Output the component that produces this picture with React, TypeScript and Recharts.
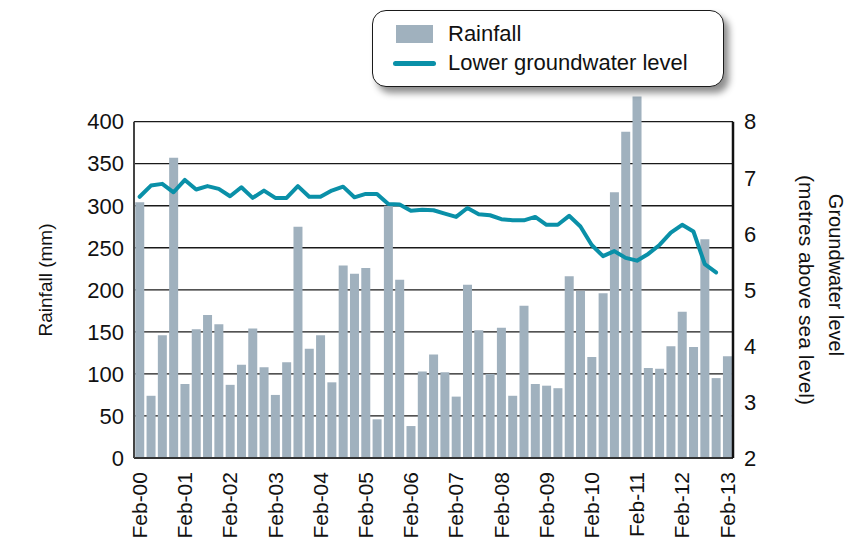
import React from 'react';
import {
  ComposedChart,
  Bar,
  Line,
  XAxis,
  YAxis,
  CartesianGrid,
  ReferenceLine,
  Legend,
  Label,
} from 'recharts';

const categories = [
  'Feb-00', 'May-00', 'Aug-00', 'Nov-00',
  'Feb-01', 'May-01', 'Aug-01', 'Nov-01',
  'Feb-02', 'May-02', 'Aug-02', 'Nov-02',
  'Feb-03', 'May-03', 'Aug-03', 'Nov-03',
  'Feb-04', 'May-04', 'Aug-04', 'Nov-04',
  'Feb-05', 'May-05', 'Aug-05', 'Nov-05',
  'Feb-06', 'May-06', 'Aug-06', 'Nov-06',
  'Feb-07', 'May-07', 'Aug-07', 'Nov-07',
  'Feb-08', 'May-08', 'Aug-08', 'Nov-08',
  'Feb-09', 'May-09', 'Aug-09', 'Nov-09',
  'Feb-10', 'May-10', 'Aug-10', 'Nov-10',
  'Feb-11', 'May-11', 'Aug-11', 'Nov-11',
  'Feb-12', 'May-12', 'Aug-12', 'Nov-12',
  'Feb-13',
];

const rainfall = [
  304, 74, 146, 357, 88, 153, 170, 159, 87, 111, 154, 108, 75, 114, 275, 130,
  146, 90, 229, 219, 226, 46, 300, 212, 38, 103, 123, 102, 73, 206, 152, 100,
  155, 74, 181, 88, 86, 83, 216, 199, 120, 196, 316, 388, 430, 107, 106, 133,
  174, 132, 260, 95, 121,
];

const groundwater: (number | null)[] = [
  6.66, 6.86, 6.89, 6.74, 6.96, 6.79, 6.85, 6.8, 6.67, 6.83, 6.64, 6.77, 6.64,
  6.64, 6.85, 6.66, 6.66, 6.77, 6.84, 6.65, 6.71, 6.71, 6.53, 6.52, 6.41, 6.43,
  6.42, 6.36, 6.3, 6.46, 6.35, 6.33, 6.26, 6.24, 6.24, 6.3, 6.16, 6.16, 6.32,
  6.13, 5.8, 5.6, 5.69, 5.57, 5.52, 5.64, 5.8, 6.02, 6.16, 6.04, 5.46, 5.31,
  null,
];

const leftTicks = [0, 50, 100, 150, 200, 250, 300, 350, 400];
const rightTicks = [2, 3, 4, 5, 6, 7, 8];

const data = categories.map((label, i) => ({
  label,
  rain: rainfall[i],
  gw: groundwater[i],
}));

const FIRST = categories[0];
const LAST = categories[categories.length - 1];
const TOP = leftTicks[leftTicks.length - 1];

const FONT = '"Liberation Sans", Arial, sans-serif';
const BAR_COLOR = '#a0b1be';
const LINE_COLOR = '#0a90a8';

const XTick = (props: any) => {
  const { x, y, payload } = props;
  return (
    <text
      x={x}
      y={y}
      transform={`rotate(-90, ${x}, ${y})`}
      textAnchor="end"
      dy="0.35em"
      fontSize={21}
      fontFamily={FONT}
      fill="#111"
    >
      {payload.value}
    </text>
  );
};

const LeftLabel = (props: any) => {
  const vb = props.viewBox || {};
  const cx = vb.x + 45;
  const cy = vb.y + 192;
  return (
    <text
      x={cx}
      y={cy}
      transform={`rotate(-90, ${cx}, ${cy})`}
      textAnchor="middle"
      dy="0.35em"
      fontSize={19}
      fontFamily={FONT}
      fill="#111"
    >
      Rainfall (mm)
    </text>
  );
};

const RightLabel = (props: any) => {
  const vb = props.viewBox || {};
  const x1 = vb.x + 103;
  const y1 = vb.y + 187;
  const x2 = vb.x + 73;
  const y2 = vb.y + 202;
  return (
    <g>
      <text
        x={x1}
        y={y1}
        transform={`rotate(90, ${x1}, ${y1})`}
        textAnchor="middle"
        dy="0.35em"
        fontSize={20}
        fontFamily={FONT}
        fill="#111"
      >
        Groundwater level
      </text>
      <text
        x={x2}
        y={y2}
        transform={`rotate(90, ${x2}, ${y2})`}
        textAnchor="middle"
        dy="0.35em"
        fontSize={21}
        fontFamily={FONT}
        fill="#111"
      >
        (metres above sea level)
      </text>
    </g>
  );
};

const LegendBox = () => (
  <div
    style={{
      position: 'relative',
      width: 352,
      height: 77,
      boxSizing: 'border-box',
      border: '1.5px solid #1a1a1a',
      borderRadius: 14,
      background: '#fff',
      boxShadow: '5px 6px 7px rgba(0,0,0,0.45)',
      fontFamily: FONT,
      fontSize: 22,
      color: '#111',
    }}
  >
    <div
      style={{
        position: 'absolute',
        left: 23,
        top: 14,
        width: 37,
        height: 18,
        background: BAR_COLOR,
      }}
    />
    <div style={{ position: 'absolute', left: 75, top: 12, lineHeight: '22px', whiteSpace: 'nowrap' }}>
      Rainfall
    </div>
    <div
      style={{
        position: 'absolute',
        left: 20,
        top: 50,
        width: 43,
        height: 5,
        borderRadius: 3,
        background: LINE_COLOR,
      }}
    />
    <div style={{ position: 'absolute', left: 75, top: 41, lineHeight: '22px', whiteSpace: 'nowrap' }}>
      Lower groundwater level
    </div>
  </div>
);

const applyScale = (scale: any, v: number): number | null => {
  try {
    if (typeof scale === 'function') return scale(v);
    if (scale && typeof scale.map === 'function') return scale.map(v);
    if (scale && typeof scale.apply === 'function') return scale.apply(v);
    if (scale && typeof scale.scale === 'function') return scale.scale(v);
  } catch (e) {
    return null;
  }
  return null;
};

const gridRows = (props: any) => {
  const scale = props?.yAxis?.scale;
  const out: number[] = [];
  leftTicks.forEach((t) => {
    const c = applyScale(scale, t);
    if (typeof c === 'number' && !Number.isNaN(c)) out.push(c);
  });
  return out;
};

export default function App() {
  return (
    <div style={{ position: 'absolute', left: 0, top: 0, width: 864, height: 546, background: '#fff' }}>
      <ComposedChart
        width={864}
        height={546}
        data={data}
        margin={{ top: 88, right: 0, bottom: 0, left: 0 }}
        barCategoryGap="11%"
        style={{ fontFamily: FONT }}
      >
        <CartesianGrid
          yAxisId="left"
          vertical={false}
          horizontalCoordinatesGenerator={gridRows}
          stroke="#1a1a1a"
          strokeWidth={1.3}
        />
        <XAxis
          dataKey="label"
          interval={3}
          height={88}
          tickLine={false}
          axisLine={false}
          tickMargin={8}
          tick={<XTick />}
        />
        <YAxis
          yAxisId="left"
          width={134}
          domain={[0, 440]}
          ticks={leftTicks}
          axisLine={false}
          tickLine={false}
          tickMargin={4}
          tick={{ fontSize: 22, fill: '#111', fontFamily: FONT }}
        >
          <Label content={<LeftLabel />} />
        </YAxis>
        <YAxis
          yAxisId="right"
          orientation="right"
          width={131}
          domain={[2, 8.6]}
          ticks={rightTicks}
          axisLine={false}
          tickLine={false}
          tickMargin={5}
          tick={{ fontSize: 22, fill: '#111', fontFamily: FONT }}
        >
          <Label content={<RightLabel />} />
        </YAxis>
        <Bar dataKey="rain" yAxisId="left" fill={BAR_COLOR} isAnimationActive={false} />
        <Line
          dataKey="gw"
          yAxisId="right"
          type="linear"
          stroke={LINE_COLOR}
          strokeWidth={4}
          strokeLinejoin="round"
          strokeLinecap="round"
          dot={false}
          activeDot={false}
          connectNulls={false}
          isAnimationActive={false}
        />
        <ReferenceLine
          yAxisId="left"
          y={0}
          stroke="#333"
          strokeWidth={2}
        />
        <ReferenceLine
          yAxisId="left"
          segment={[{ x: FIRST, y: 0 }, { x: FIRST, y: TOP }]}
          position="start"
          stroke="#444"
          strokeWidth={2}
          ifOverflow="visible"
        />
        <ReferenceLine
          yAxisId="left"
          segment={[{ x: LAST, y: 0 }, { x: LAST, y: TOP }]}
          position="end"
          stroke="#111"
          strokeWidth={2.5}
          ifOverflow="visible"
        />
        <Legend
          layout="vertical"
          align="center"
          verticalAlign="middle"
          wrapperStyle={{ position: 'absolute', left: 372, top: 10, width: 352, height: 77 }}
          content={<LegendBox />}
        />
      </ComposedChart>
    </div>
  );
}
